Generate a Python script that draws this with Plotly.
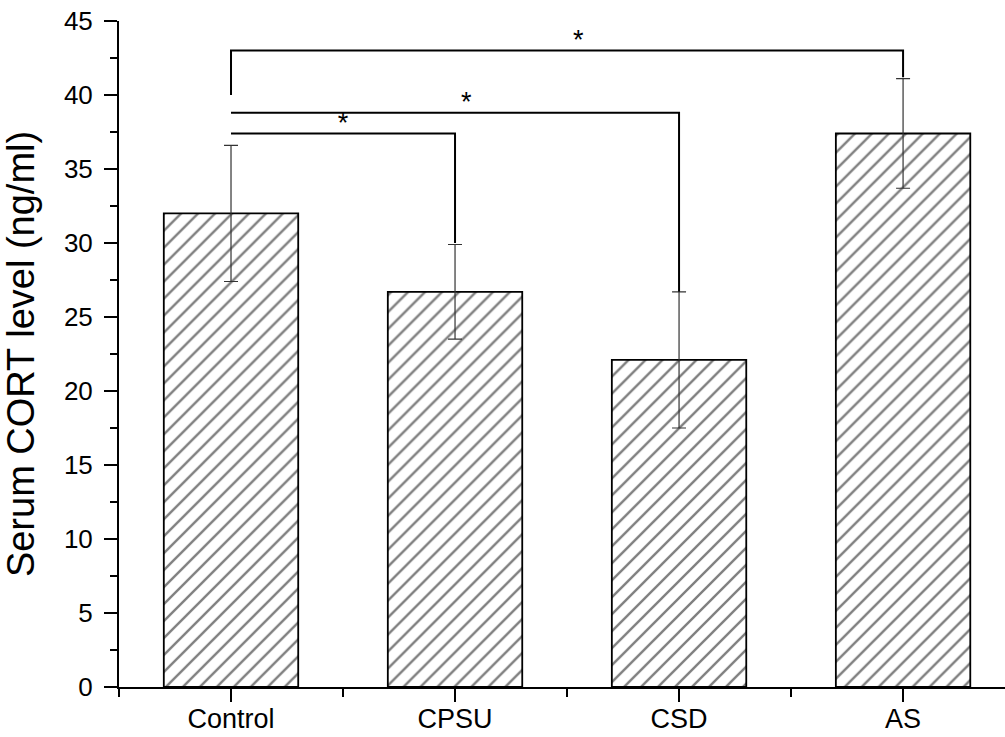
import plotly.graph_objects as go

# Serum corticosterone by group (mean ± SD)
groups = ["Control", "CPSU", "CSD", "AS"]
cort_mean = [32.0, 26.7, 22.1, 37.4]
cort_sd = [4.6, 3.2, 4.6, 3.7]

# Significance brackets: (left group, right group, bar height, left leg bottom, right leg bottom)
bracket_left = [0, 0, 0]
bracket_right = [1, 2, 3]
bracket_height = [37.4, 38.8, 43.0]
bracket_left_bottom = [37.4, 38.8, 40.0]
bracket_right_bottom = [30.0, 26.7, 41.2]
bracket_label = ["*", "*", "*"]
star_x = [0.5, 1.05, 1.55]
star_y = [37.95, 39.4, 43.55]

FONT = "Arial, Liberation Sans, sans-serif"
xpos = list(range(len(groups)))

fig = go.Figure()
fig.add_trace(go.Bar(
    x=xpos, y=cort_mean, width=0.6,
    marker=dict(
        color="white",
        line=dict(color="black", width=1.8),
        pattern=dict(shape="/", fgcolor="black", bgcolor="white", size=12, solidity=0.2),
    ),
    error_y=dict(type="data", array=cort_sd, visible=True, color="#333333", thickness=1.2, width=7),
    showlegend=False,
))

for i in range(len(bracket_height)):
    xl, xr = bracket_left[i], bracket_right[i]
    fig.add_trace(go.Scatter(
        x=[xl, xl, xr, xr],
        y=[bracket_left_bottom[i], bracket_height[i], bracket_height[i], bracket_right_bottom[i]],
        mode="lines", line=dict(color="black", width=2), showlegend=False, hoverinfo="skip",
    ))
    fig.add_trace(go.Scatter(
        x=[star_x[i]], y=[star_y[i]], mode="text", text=[bracket_label[i]],
        textfont=dict(family=FONT, size=27, color="black"), showlegend=False, hoverinfo="skip",
    ))

fig.update_layout(
    width=1005, height=737,
    margin=dict(l=119, r=0, t=21, b=50),
    plot_bgcolor="white", paper_bgcolor="white",
    font=dict(family=FONT, color="black"),
    bargap=0.4,
)
fig.update_xaxes(
    range=[-0.5, 3.455], tickmode="array", tickvals=xpos, ticktext=groups,
    showline=True, linecolor="black", linewidth=2, showgrid=False, zeroline=False,
    ticks="outside", ticklen=13, tickwidth=2, tickcolor="black",
    tickfont=dict(family=FONT, size=27, color="black"),
    ticklabelstandoff=-6, automargin=False,
    minor=dict(tickmode="array", tickvals=[-0.5, 0.5, 1.5, 2.5, 3.5], ticks="outside", ticklen=8, tickwidth=2, tickcolor="black"),
)
fig.update_yaxes(
    range=[0, 45], dtick=5, tick0=0,
    showline=True, linecolor="black", linewidth=2, showgrid=False, zeroline=False,
    ticks="outside", ticklen=13, tickwidth=2, tickcolor="black",
    tickfont=dict(family=FONT, size=26, color="black"),
    ticklabelstandoff=6, automargin=False,
    minor=dict(dtick=2.5, ticks="outside", ticklen=7, tickwidth=2, tickcolor="black", showgrid=False),
    title=dict(text="Serum CORT level (ng/ml)", font=dict(family=FONT, size=38, color="black"), standoff=18),
)

fig.write_html("out.html")
